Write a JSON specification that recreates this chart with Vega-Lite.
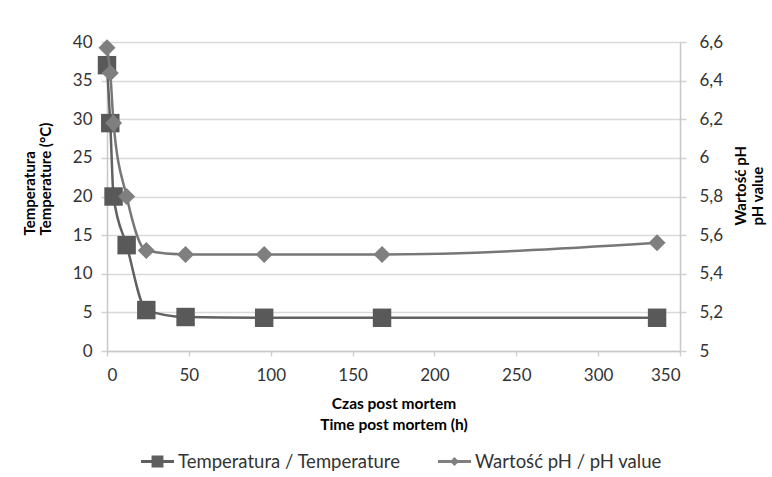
{
  "$schema": "https://vega.github.io/schema/vega-lite/v6.json",
  "width": 573,
  "height": 309,
  "autosize": {"type": "none"},
  "padding": {"left": 107, "top": 42, "right": 92, "bottom": 126},
  "background": "white",
  "config": {
    "font": "Lato",
    "view": {"stroke": null},
    "axis": {
      "labelFont": "Lato",
      "labelFontSize": 17,
      "labelColor": "#333333",
      "titleFont": "Lato",
      "titleFontSize": 15,
      "titleFontWeight": "bold",
      "titleColor": "#000000",
      "domainColor": "#c8c8c8",
      "domainWidth": 1.5,
      "tickColor": "#d0d0d0",
      "tickWidth": 1.5,
      "gridColor": "#d9d9d9",
      "gridWidth": 1.5
    }
  },
  "data": {
    "values": [
      {"t": 0, "s": "Temperatura / Temperature", "v": 37.0},
      {"t": 2, "s": "Temperatura / Temperature", "v": 29.5},
      {"t": 4, "s": "Temperatura / Temperature", "v": 20.0},
      {"t": 12, "s": "Temperatura / Temperature", "v": 13.7},
      {"t": 24, "s": "Temperatura / Temperature", "v": 5.3},
      {"t": 48, "s": "Temperatura / Temperature", "v": 4.4},
      {"t": 96, "s": "Temperatura / Temperature", "v": 4.3},
      {"t": 168, "s": "Temperatura / Temperature", "v": 4.3},
      {"t": 336, "s": "Temperatura / Temperature", "v": 4.3},
      {"t": 0, "s": "Wartość pH / pH value", "v": 6.57},
      {"t": 2, "s": "Wartość pH / pH value", "v": 6.44},
      {"t": 4, "s": "Wartość pH / pH value", "v": 6.18},
      {"t": 12, "s": "Wartość pH / pH value", "v": 5.80},
      {"t": 24, "s": "Wartość pH / pH value", "v": 5.52},
      {"t": 48, "s": "Wartość pH / pH value", "v": 5.50},
      {"t": 96, "s": "Wartość pH / pH value", "v": 5.50},
      {"t": 168, "s": "Wartość pH / pH value", "v": 5.50},
      {"t": 336, "s": "Wartość pH / pH value", "v": 5.56}
    ]
  },
  "encoding": {
    "x": {
      "field": "t",
      "type": "quantitative",
      "scale": {"domain": [0, 350], "nice": false},
      "axis": {
        "title": ["Czas post mortem", "Time post mortem (h)"],
        "values": [0, 50, 100, 150, 200, 250, 300, 350],
        "grid": false,
        "tickSize": 5,
        "labelPadding": 11,
        "titleFontSize": 15.5,
        "titlePadding": 13,
        "titleLineHeight": 21
      }
    }
  },
  "layer": [
    {
      "transform": [{"filter": "datum.s == 'Temperatura / Temperature'"}],
      "encoding": {
        "y": {
          "field": "v",
          "type": "quantitative",
          "scale": {"domain": [0, 40], "nice": false},
          "axis": {
            "orient": "left",
            "title": ["Temperatura", "Temperature (°C)"],
            "values": [0, 5, 10, 15, 20, 25, 30, 35, 40],
            "grid": true,
            "tickSize": 6,
            "labelPadding": 9,
            "titleAngle": -90,
            "titleAlign": "left",
            "titleBaseline": "middle",
            "titleLineHeight": 16,
            "titleX": -78,
            "titleY": 193
          }
        }
      },
      "layer": [
        {
          "mark": {"type": "line", "interpolate": "monotone", "color": "#616161", "strokeWidth": 2.5}
        },
        {
          "mark": {"type": "point", "filled": true, "size": 340, "opacity": 1, "shape": "square", "color": "#595959"}
        }
      ]
    },
    {
      "transform": [{"filter": "datum.s == 'Wartość pH / pH value'"}],
      "encoding": {
        "y": {
          "field": "v",
          "type": "quantitative",
          "scale": {"domain": [5, 6.6], "nice": false, "zero": false},
          "axis": {
            "orient": "right",
            "title": ["Wartość pH", "pH value"],
            "values": [5, 5.2, 5.4, 5.6, 5.8, 6, 6.2, 6.4, 6.6],
            "labelExpr": "replace(format(datum.value, '.1~f'), '.', ',')",
            "grid": false,
            "tickSize": 6,
            "labelPadding": 13,
            "titleAngle": -90,
            "titleAlign": "left",
            "titleBaseline": "middle",
            "titleLineHeight": 17,
            "titleX": 60,
            "titleY": 183
          }
        }
      },
      "layer": [
        {
          "mark": {"type": "line", "interpolate": "monotone", "color": "#777777", "strokeWidth": 2.5}
        },
        {
          "mark": {"type": "point", "filled": true, "size": 290, "opacity": 1, "shape": "diamond", "color": "#7f7f7f"}
        }
      ]
    },
    {
      "transform": [{"filter": "datum.t < 0"}],
      "mark": {"type": "point", "filled": true, "opacity": 1},
      "encoding": {
        "shape": {
          "field": "s",
          "type": "nominal",
          "scale": {
            "domain": ["Temperatura / Temperature", "Wartość pH / pH value"],
            "range": ["M-1,-0.085H1V0.085H-1Z M-0.36,-0.36H0.36V0.36H-0.36Z", "M-1,-0.085H1V0.085H-1Z M0,-0.27L0.27,0L0,0.27L-0.27,0Z"]
          },
          "legend": {
            "title": null,
            "orient": "none",
            "legendX": 33,
            "legendY": 402,
            "direction": "horizontal",
            "labelFont": "Lato",
            "labelFontSize": 18.5,
            "labelColor": "#333333",
            "labelLimit": 400,
            "labelOffset": 3,
            "columnPadding": 34,
            "symbolSize": 1089,
            "symbolOpacity": 1
          }
        },
        "color": {
          "field": "s",
          "type": "nominal",
          "scale": {"domain": ["Temperatura / Temperature", "Wartość pH / pH value"], "range": ["#5f5f5f", "#808080"]},
          "legend": {
            "title": null,
            "orient": "none",
            "legendX": 33,
            "legendY": 402,
            "direction": "horizontal",
            "labelFont": "Lato",
            "labelFontSize": 18.5,
            "labelColor": "#333333",
            "labelLimit": 400,
            "labelOffset": 3,
            "columnPadding": 34,
            "symbolSize": 1089,
            "symbolOpacity": 1
          }
        }
      }
    }
  ],
  "resolve": {"scale": {"y": "independent"}}
}
